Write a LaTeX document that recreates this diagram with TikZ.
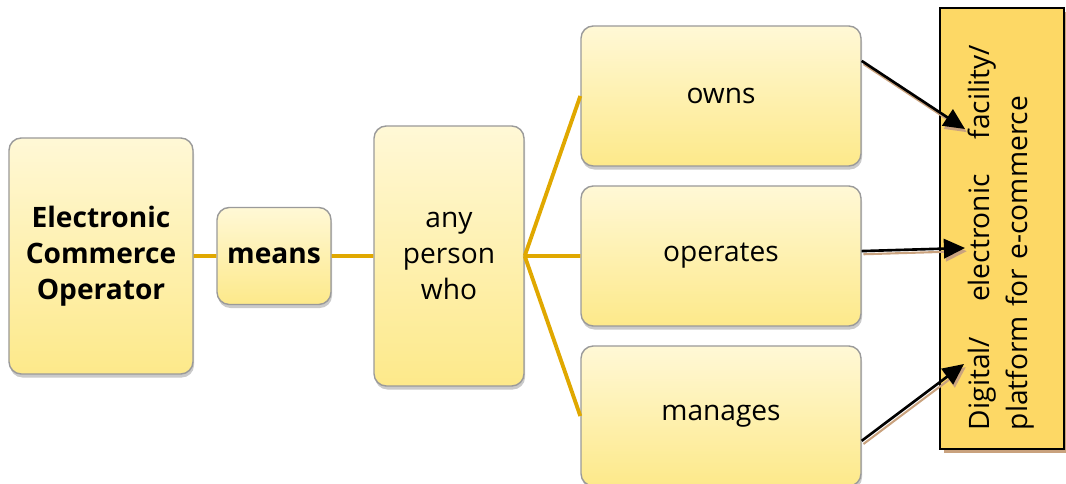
\documentclass[tikz,border=0pt]{standalone}
\usepackage{fontspec}
\setmainfont{Open Sans}
\usepackage{tikz}
\usetikzlibrary{arrows.meta,positioning,shadows}
\definecolor{paleyel}{HTML}{FFF8D6}
\definecolor{deepyel}{HTML}{FDE98A}
\definecolor{edgegray}{HTML}{9A9A9A}
\definecolor{goldline}{HTML}{E0A800}
\definecolor{platyel}{HTML}{FDD865}
\definecolor{tanshade}{HTML}{C9A27E}
\tikzstyle{block}=[draw=edgegray,line width=0.8pt,rounded corners=7pt,top color=paleyel,bottom color=deepyel,align=center,inner sep=2pt,font=\fontsize{16}{20.5}\selectfont,drop shadow={shadow xshift=0.6pt,shadow yshift=-2pt,opacity=0.35,fill=black!60}]
\tikzstyle{pointer}=[line width=1.5pt,-{Triangle[length=12pt,width=11pt]},preaction={draw=tanshade,line width=1.2pt,transform canvas={xshift=1pt,yshift=-1.8pt}}]

\begin{document}
\begin{tikzpicture}[x=0.2mm,y=0.2mm,grow'=right,
  level 1/.style={level distance=3.46cm},
  level 2/.style={level distance=3.5cm},
  level 3/.style={level distance=5.44cm,sibling distance=3.2cm},
  edge from parent/.style={draw=goldline,line width=2.2pt},
  edge from parent path={(\tikzparentnode.east) -- (\tikzchildnode.west)}]
\useasboundingbox (0,0) rectangle (1066,484);
\node [block,font=\fontsize{16}{20.5}\selectfont\bfseries,minimum width=3.68cm,minimum height=4.72cm] (eco) at (101,228) {Electronic\\Commerce\\Operator}
  child {node [block,font=\fontsize{16}{20.5}\selectfont\bfseries,minimum width=2.28cm,minimum height=1.94cm] (means) {means}
    child {node [block,minimum width=3cm,minimum height=5.2cm] (person) {any\\person\\who}
      child {node [block,minimum width=5.6cm,minimum height=2.8cm] (owns) {owns}}
      child {node [block,minimum width=5.6cm,minimum height=2.8cm] (operates) {operates}}
      child {node [block,minimum width=5.6cm,minimum height=2.8cm] (manages) {manages}}
    }
  };

\node [draw=black,line width=1.2pt,fill=platyel,minimum width=2.48cm,minimum height=8.82cm,inner sep=0pt,drop shadow={shadow xshift=2pt,shadow yshift=-2pt,opacity=1,fill=tanshade}] (platform) at (1002,255.5) {};
\node [rotate=90,text width=7.7cm,align=left,inner sep=0pt,font=\fontsize{16}{21.5}\selectfont] (platlabel) at (1001,246.5) {Digital/\hfill electronic\hfill facility/\\platform for e-commerce};

\coordinate (tipA) at (965,355);
\coordinate (tipB) at (965,236);
\coordinate (tipC) at (964,120);
\draw [pointer] (owns.14) -- (tipA);
\draw [pointer] (operates.2) -- (tipB);
\draw [pointer] (manages.-10) -- (tipC);
\end{tikzpicture}
\end{document}
